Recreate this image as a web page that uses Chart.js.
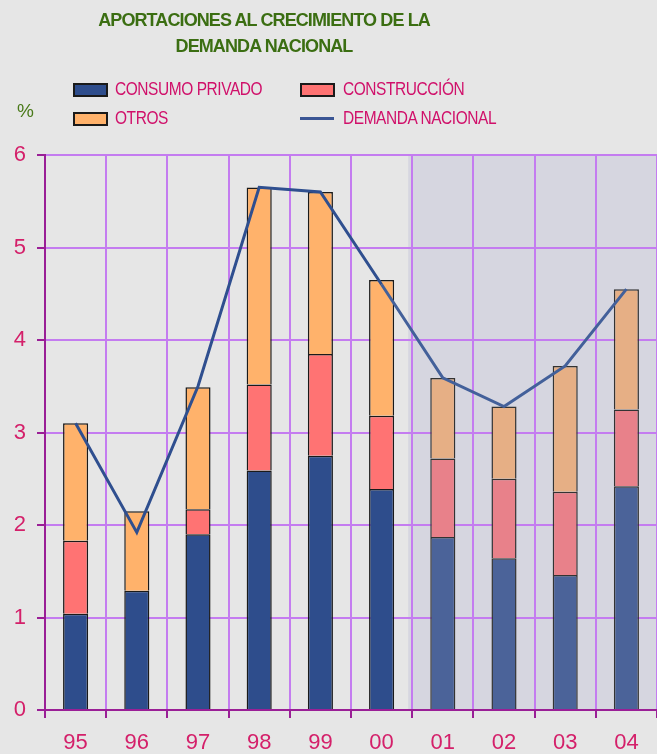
<!DOCTYPE html>
<html>
<head>
<meta charset="utf-8">
<script src="https://cdn.jsdelivr.net/npm/chart.js@4/dist/chart.umd.min.js"></script>
<style>
  body { margin: 0; background: #e6e6e6; font-family: "Liberation Sans", Arial, sans-serif; }
  #wrap { position: relative; width: 657px; height: 754px; }
  #title { position: absolute; left: 44px; width: 440px; top: 7px; text-align: center;
    color: #3b6e12; font-weight: bold; font-size: 18px; line-height: 26px; letter-spacing: -0.9px; }
  .lg { position: absolute; color: #d0106a; font-size: 18px; letter-spacing: -0.5px;
    transform: scaleX(0.86); transform-origin: left center; white-space: nowrap; }
  .sw { position: absolute; width: 31px; height: 10px; border: 2px solid #1a1a1a; }
  .ln { position: absolute; width: 34px; height: 3px; background: #3a5594; }
  #pct { position: absolute; left: 17px; top: 100px; color: #4a7a1a; font-size: 19px; }
  canvas { position: absolute; left: 0; top: 0; }
</style>
</head>
<body>
<div id="wrap">
  <canvas id="c" width="657" height="754"></canvas>
  <div id="title">APORTACIONES AL CRECIMIENTO DE LA<br>DEMANDA NACIONAL</div>
  <div class="sw" style="left:73px;top:83px;background:#2e4d8c"></div>
  <div class="lg" style="left:115px;top:79px">CONSUMO PRIVADO</div>
  <div class="sw" style="left:300px;top:83px;background:#ff7373"></div>
  <div class="lg" style="left:343px;top:79px">CONSTRUCCIÓN</div>
  <div class="sw" style="left:73px;top:112px;background:#ffb26b"></div>
  <div class="lg" style="left:115px;top:108px">OTROS</div>
  <div class="ln" style="left:300px;top:117px"></div>
  <div class="lg" style="left:343px;top:108px">DEMANDA NACIONAL</div>
  <div id="pct">%</div>
</div>
<script>
// años (previsión desde 01)
const years = ['95', '96', '97', '98', '99', '00', '01', '02', '03', '04'];
const consumoPrivado = [1.04, 1.29, 1.90, 2.59, 2.75, 2.39, 1.87, 1.64, 1.46, 2.42];
const construccion = [0.79, 0, 0.27, 0.93, 1.10, 0.79, 0.85, 0.86, 0.90, 0.83];
const otros = [1.27, 0.86, 1.32, 2.13, 1.75, 1.47, 0.87, 0.78, 1.36, 1.30];
const demandaNacional = [3.10, 1.92, 3.50, 5.65, 5.60, 4.60, 3.59, 3.28, 3.72, 4.55];
const firstForecast = 6;

function cols(past, fut) {
  return years.map((y, i) => i >= firstForecast ? fut : past);
}

const shade = {
  id: 'shade',
  beforeDraw(chart) {
    const { ctx, chartArea, scales } = chart;
    const x0 = (scales.x.getPixelForValue(firstForecast - 1) + scales.x.getPixelForValue(firstForecast)) / 2 - 4;
    ctx.save();
    ctx.fillStyle = '#d6d6e0';
    ctx.fillRect(x0, chartArea.top, chartArea.right - x0, chartArea.bottom - chartArea.top);
    ctx.restore();
  }
};

const barBase = { type: 'bar', borderWidth: 1.5, barPercentage: 0.41, categoryPercentage: 1, stack: 'a', order: 2 };

new Chart(document.getElementById('c'), {
  data: {
    labels: years,
    datasets: [
      Object.assign({}, barBase, {
        label: 'CONSUMO PRIVADO', data: consumoPrivado,
        backgroundColor: cols('#2e4d8c', '#4b6399'), borderColor: cols('#1a1a1a', '#333')
      }),
      Object.assign({}, barBase, {
        label: 'CONSTRUCCIÓN', data: construccion,
        backgroundColor: cols('#ff7373', '#e8818a'), borderColor: cols('#1a1a1a', '#333')
      }),
      Object.assign({}, barBase, {
        label: 'OTROS', data: otros,
        backgroundColor: cols('#ffb26b', '#e6af85'), borderColor: cols('#1a1a1a', '#333')
      }),
      {
        type: 'line', label: 'DEMANDA NACIONAL', data: demandaNacional, stack: 'line', order: 1,
        borderColor: '#2f4f8f', borderWidth: 3, pointRadius: 0, tension: 0,
        segment: { borderColor: c => c.p0DataIndex >= firstForecast - 1 ? '#43609a' : undefined }
      }
    ]
  },
  options: {
    responsive: false,
    animation: false,
    layout: { padding: { top: 155, right: 0, bottom: 0, left: 0 } },
    plugins: { legend: { display: false }, title: { display: false }, tooltip: { enabled: false } },
    scales: {
      x: {
        stacked: true,
        grid: { color: '#c47cf0', lineWidth: 2, tickColor: '#9a1f96', tickLength: 8, offset: true },
        border: { color: '#9a1f96', width: 2 },
        ticks: { color: '#d4206a', font: { family: 'Liberation Sans', size: 22 }, padding: 12 },
        afterFit(s) { s.height = 44; }
      },
      y: {
        stacked: true,
        min: 0, max: 6,
        grid: { color: '#c47cf0', lineWidth: 2, tickColor: '#9a1f96', tickLength: 8 },
        border: { color: '#9a1f96', width: 2 },
        ticks: { stepSize: 1, color: '#d4206a', font: { family: 'Liberation Sans', size: 22 }, padding: 11 },
        afterFit(s) { s.width = 45; }
      }
    }
  },
  plugins: [shade]
});
</script>
</body>
</html>
